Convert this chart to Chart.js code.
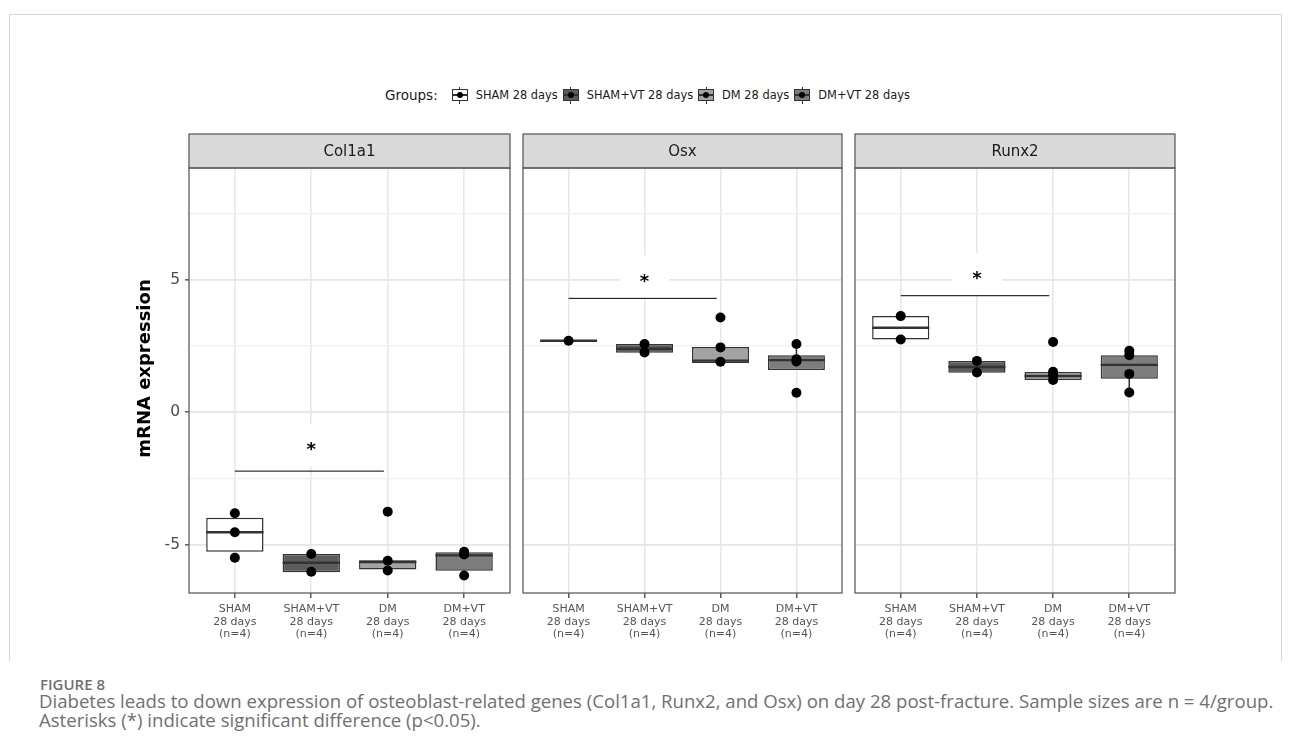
<!DOCTYPE html>
<html>
<head>
<meta charset="utf-8">
<title>Osteoblast gene expression, day 28</title>
<script src="https://cdn.jsdelivr.net/npm/chart.js@4.4.1/dist/chart.umd.min.js"></script>
<style>
  html, body { margin: 0; padding: 0; background: #ffffff; }
  #fig { position: relative; width: 1290px; height: 754px; overflow: hidden; font-family: "DejaVu Sans", sans-serif; background: #ffffff; }
  .frame { position: absolute; left: 9px; top: 14px; width: 1271px; height: 646px; border: 1px solid #d6d6d6; border-bottom: none; }
  canvas.panel { position: absolute; }
  #legend { position: absolute; left: 385px; top: 86px; height: 18px; display: flex; align-items: center; white-space: nowrap; color: #1a1a1a; }
  #legend .title { font-size: 13.5px; margin-right: 14px; }
  #legend .key { position: relative; width: 16px; height: 17px; margin-right: 8px; flex: none; }
  #legend .key .wh { position: absolute; left: 7.5px; top: 0; width: 1px; height: 17px; background: #333; }
  #legend .key .bx { position: absolute; left: 0; top: 2.5px; width: 14px; height: 10px; border: 1px solid #333; }
  #legend .key .md { position: absolute; left: 0; top: 7.5px; width: 16px; height: 1.5px; background: #333; }
  #legend .key .pt { position: absolute; left: 5px; top: 5.3px; width: 6px; height: 6px; border-radius: 50%; background: #000; }
  #legend .lab { font-size: 11.4px; margin-right: 5px; }
  #figno { position: absolute; left: 40px; top: 676px; font-family: "Open Sans", sans-serif; font-weight: 600; font-size: 15px; line-height: 17px; color: #707070; }
  #caption { position: absolute; left: 39px; top: 691px; font-family: "Open Sans", sans-serif; font-size: 16px; line-height: 19px; color: #707070; white-space: nowrap; }
</style>
</head>
<body>
<div id="fig">
  <div class="frame"></div>
  <div id="legend"></div>
  <canvas id="p0" class="panel" width="415" height="521" style="left:100px;top:133px"></canvas>
  <canvas id="p1" class="panel" width="329" height="521" style="left:518px;top:133px"></canvas>
  <canvas id="p2" class="panel" width="330" height="521" style="left:850px;top:133px"></canvas>
  <div id="figno">FIGURE 8</div>
  <div id="caption"><span id="cap1">Diabetes leads to down expression of osteoblast-related genes (Col1a1, Runx2, and Osx) on day 28 post-fracture. Sample sizes are n = 4/group.</span><br><span>Asterisks (*) indicate significant difference (p&lt;0.05).</span></div>
</div>
<script>
// ---- groups and axis labels ----
const GROUPS = ['SHAM 28 days', 'SHAM+VT 28 days', 'DM 28 days', 'DM+VT 28 days'];
const TICK_LABELS = [
  ['SHAM', '28 days', '(n=4)'],
  ['SHAM+VT', '28 days', '(n=4)'],
  ['DM', '28 days', '(n=4)'],
  ['DM+VT', '28 days', '(n=4)']
];
const FILLS = ['#ffffff', '#5c5c5c', '#a3a3a3', '#7d7d7d'];
const GENES = ['Col1a1', 'Osx', 'Runx2'];
const Y_TICKS = [-5, -2.5, 0, 2.5, 5, 7.5];

// ---- Col1a1 ----
const col1a1Q1 = [-5.26, -6.04, -5.93, -5.98];
const col1a1Median = [-4.53, -5.68, -5.65, -5.40];
const col1a1Q3 = [-3.98, -5.35, -5.58, -5.28];
const col1a1WhiskerLow = [-5.26, -6.04, -5.93, -5.98];
const col1a1WhiskerHigh = [-3.98, -5.35, -5.58, -5.28];
const col1a1Points = [[-3.81, -4.53, -5.49], [-5.35, -6.02], [-3.75, -5.60, -5.97], [-5.26, -5.37, -6.16]];

// ---- Osx ----
const osxQ1 = [2.70, 2.25, 1.86, 1.60];
const osxMedian = [2.70, 2.40, 1.95, 1.97];
const osxQ3 = [2.70, 2.58, 2.46, 2.15];
const osxWhiskerLow = [2.70, 2.25, 1.86, 1.60];
const osxWhiskerHigh = [2.70, 2.58, 2.46, 2.58];
const osxPoints = [[2.70], [2.58, 2.26], [3.58, 2.45, 1.91], [2.58, 2.00, 1.92, 0.74]];

// ---- Runx2 ----
const runx2Q1 = [2.75, 1.49, 1.22, 1.27];
const runx2Median = [3.19, 1.71, 1.37, 1.79];
const runx2Q3 = [3.63, 1.94, 1.52, 2.15];
const runx2WhiskerLow = [2.75, 1.49, 1.22, 0.75];
const runx2WhiskerHigh = [3.63, 1.94, 1.52, 2.32];
const runx2Points = [[3.63, 2.75], [1.94, 1.50], [2.65, 1.53, 1.40, 1.22], [2.32, 2.15, 1.45, 0.75]];

// ---- significance brackets (SHAM vs DM) ----
const SIG_LINE_Y = [-2.22, 4.30, 4.40];
const SIG_STAR_Y = [-1.25, 5.12, 5.22];
const SIG_FROM = 1, SIG_TO = 2.95, SIG_STAR_X = 2;

const Y_MIN = -6.82, Y_MAX = 9.22;
const X_MIN = 0.4, X_MAX = 4.6;
const BOX_HALF = 0.375;
const STRIP_H = 34;

const panelData = [
  { q1: col1a1Q1, med: col1a1Median, q3: col1a1Q3, lo: col1a1WhiskerLow, hi: col1a1WhiskerHigh, pts: col1a1Points },
  { q1: osxQ1, med: osxMedian, q3: osxQ3, lo: osxWhiskerLow, hi: osxWhiskerHigh, pts: osxPoints },
  { q1: runx2Q1, med: runx2Median, q3: runx2Q3, lo: runx2WhiskerLow, hi: runx2WhiskerHigh, pts: runx2Points }
];

Chart.defaults.font.family = '"DejaVu Sans", sans-serif';
Chart.defaults.color = '#4d4d4d';

// legend row
const legend = document.getElementById('legend');
legend.innerHTML = '<span class="title">Groups:</span>' + GROUPS.map((g, i) =>
  '<span class="key"><span class="wh"></span><span class="bx" style="background:' + FILLS[i] + '"></span>' +
  '<span class="md"></span><span class="pt"></span></span><span class="lab">' + g + '</span>').join('');

// strip, panel frame, significance label, y-axis title
const facetPlugin = {
  id: 'facet',
  beforeDatasetsDraw(chart) {
    const { ctx, scales } = chart;
    const k = chart.options.plugins.facet.index;
    const x = scales.x.getPixelForValue(SIG_STAR_X);
    const y = scales.y.getPixelForValue(SIG_STAR_Y[k]);
    ctx.save();
    ctx.fillStyle = '#ffffff';
    ctx.fillRect(x - 25, y - 21, 50, 42);
    ctx.fillStyle = '#000000';
    ctx.font = 'bold 18px "DejaVu Sans"';
    ctx.textAlign = 'center';
    ctx.textBaseline = 'alphabetic';
    ctx.fillText('*', x, y + 10);
    ctx.restore();
  },
  afterDraw(chart) {
    const { ctx, chartArea: a } = chart;
    const k = chart.options.plugins.facet.index;
    ctx.save();
    ctx.fillStyle = '#d9d9d9';
    ctx.fillRect(a.left, a.top - STRIP_H, a.right - a.left, STRIP_H);
    ctx.strokeStyle = '#5e5e5e';
    ctx.lineWidth = 1.3;
    ctx.strokeRect(a.left, a.top - STRIP_H, a.right - a.left, STRIP_H);
    ctx.strokeRect(a.left, a.top, a.right - a.left, a.bottom - a.top);
    ctx.fillStyle = '#1a1a1a';
    ctx.font = '15px "DejaVu Sans"';
    ctx.textAlign = 'center';
    ctx.textBaseline = 'middle';
    ctx.fillText(GENES[k], (a.left + a.right) / 2, a.top - STRIP_H / 2 + 1);
    if (k === 0) {
      ctx.translate(a.left - 44, (a.top - STRIP_H + a.bottom) / 2 + 5);
      ctx.rotate(-Math.PI / 2);
      ctx.font = 'bold 18px "DejaVu Sans"';
      ctx.fillStyle = '#000000';
      ctx.fillText('mRNA expression', 0, 0);
    }
    ctx.restore();
  }
};

function makePanel(k) {
  const d = panelData[k];
  const showY = k === 0;
  const boxes = d.q1.map((v, i) => ({ x: i + 1, y: [v, d.q3[i]] }));
  const medians = [];
  const whiskers = [];
  d.med.forEach((m, i) => {
    medians.push({ x: i + 1 - BOX_HALF, y: m }, { x: i + 1 + BOX_HALF, y: m }, { x: i + 1.5, y: null });
    whiskers.push({ x: i + 1, y: d.lo[i] }, { x: i + 1, y: d.q1[i] }, { x: i + 1, y: null },
                  { x: i + 1, y: d.q3[i] }, { x: i + 1, y: d.hi[i] }, { x: i + 1, y: null });
  });
  const points = d.pts.flatMap((arr, i) => arr.map(v => ({ x: i + 1, y: v })));

  return new Chart(document.getElementById('p' + k), {
    type: 'bar',
    data: {
      datasets: [
        { type: 'scatter', data: points, backgroundColor: '#000000', borderWidth: 0, pointRadius: 5, order: 0 },
        { type: 'line', data: [{ x: SIG_FROM, y: SIG_LINE_Y[k] }, { x: SIG_TO, y: SIG_LINE_Y[k] }],
          borderColor: '#000000', borderWidth: 1, pointRadius: 0, fill: false, order: 1 },
        { type: 'line', data: medians, borderColor: '#333333', borderWidth: 2.4, pointRadius: 0,
          spanGaps: false, fill: false, order: 2 },
        { type: 'bar', data: boxes, backgroundColor: FILLS, borderColor: '#333333', borderWidth: 1.5,
          borderSkipped: false, barPercentage: 0.75, categoryPercentage: 1, order: 3 },
        { type: 'line', data: whiskers, borderColor: '#333333', borderWidth: 1.5, pointRadius: 0,
          spanGaps: false, fill: false, order: 4 }
      ]
    },
    options: {
      responsive: false,
      animation: false,
      devicePixelRatio: 1,
      layout: { padding: { top: STRIP_H + 1, left: showY ? 0 : 4, right: 4, bottom: 0 } },
      plugins: {
        legend: { display: false },
        tooltip: { enabled: false },
        facet: { index: k }
      },
      scales: {
        x: {
          type: 'linear',
          min: X_MIN,
          max: X_MAX,
          offset: false,
          afterBuildTicks: s => { s.ticks = TICK_LABELS.map((_, i) => ({ value: i + 1 })); },
          afterFit: s => { s.height = 61; },
          ticks: {
            autoSkip: false,
            maxRotation: 0,
            padding: 5,
            color: '#555555',
            font: { size: 11, lineHeight: 1.14 },
            callback: v => TICK_LABELS[Math.round(v) - 1]
          },
          grid: { offset: false, color: '#e8e8e8', lineWidth: 1.6, tickColor: '#333333', tickLength: 5, tickWidth: 1.2 },
          border: { display: false }
        },
        y: {
          type: 'linear',
          min: Y_MIN,
          max: Y_MAX,
          afterBuildTicks: s => { s.ticks = Y_TICKS.map(v => ({ value: v })); },
          afterFit: s => { s.width = showY ? 89 : 0; },
          ticks: {
            display: showY,
            padding: 5,
            color: '#4d4d4d',
            font: { size: 15.5 },
            callback: v => (v % 5 === 0 ? String(v) : '')
          },
          grid: {
            drawTicks: showY,
            tickLength: 4,
            tickWidth: 1.2,
            color: c => (c.tick && c.tick.value % 5 === 0 ? '#e6e6e6' : '#f0f0f0'),
            lineWidth: c => (c.tick && c.tick.value % 5 === 0 ? 1.7 : 1.2),
            tickColor: c => (c.tick && c.tick.value % 5 === 0 ? '#333333' : 'rgba(0,0,0,0)')
          },
          border: { display: false }
        }
      }
    },
    plugins: [facetPlugin]
  });
}

GENES.forEach((_, k) => makePanel(k));

// fit the first caption line to the text column
(function fitCaption() {
  const cap = document.getElementById('caption');
  const line = document.getElementById('cap1');
  const target = 1235;
  const w = line.getBoundingClientRect().width;
  if (w > 0) {
    const size = 16 * target / w;
    cap.style.fontSize = size.toFixed(2) + 'px';
  }
})();
</script>
</body>
</html>
